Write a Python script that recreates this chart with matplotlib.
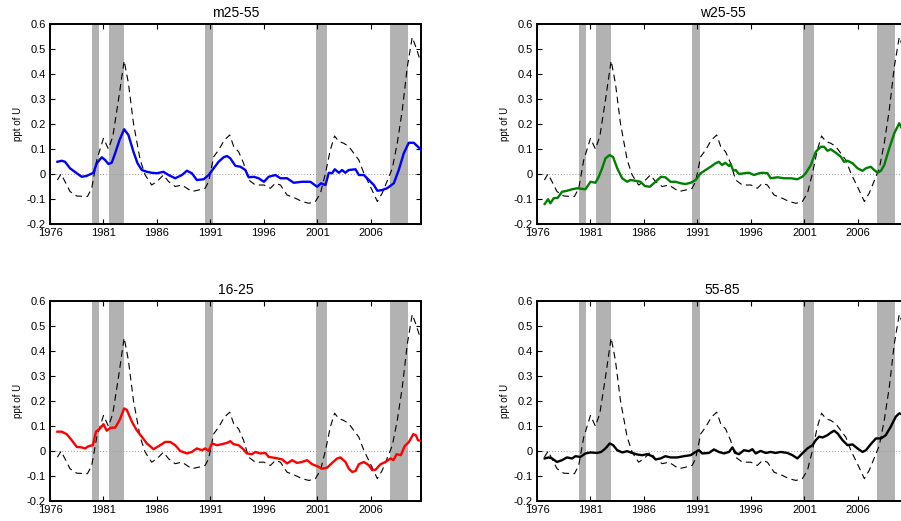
import numpy as np
import matplotlib
matplotlib.use("Agg")
import matplotlib.pyplot as plt

plt.rcParams['font.family'] = ['Liberation Sans', 'DejaVu Sans']

# aggregate series (dashed, same in every panel)
agg_t = [1976.69, 1977.03, 1977.4, 1977.87, 1978.5, 1979.5, 1979.9, 1980.37, 1981.0,
         1981.46, 1981.87, 1982.4, 1982.93, 1983.33, 1983.8, 1984.43, 1984.9, 1985.5,
         1986.0, 1986.6, 1987.08, 1987.7, 1988.33, 1988.8, 1989.26, 1989.9, 1990.5,
         1990.83, 1991.3, 1991.76, 1992.3, 1992.8, 1993.17, 1993.63, 1994.1, 1994.57,
         1995.2, 1996.0, 1996.6, 1997.07, 1997.54, 1998.16, 1998.94, 1999.56, 2000.2,
         2000.8, 2001.28, 2001.75, 2002.2, 2002.6, 2003.0, 2003.46, 2003.93, 2004.4,
         2004.87, 2005.34, 2005.65, 2006.1, 2006.6, 2007.05, 2007.5, 2008.0, 2008.46,
         2008.93, 2009.4, 2009.86, 2010.18, 2010.64]
agg_v = [-0.024, 0.0, -0.03, -0.07, -0.088, -0.09, -0.057, 0.056, 0.143,
         0.10, 0.15, 0.296, 0.453, 0.363, 0.203, 0.056, -0.004, -0.044,
         -0.03, -0.004, -0.03, -0.05, -0.044, -0.057, -0.07, -0.064, -0.057,
         -0.03, 0.069, 0.096, 0.136, 0.156, 0.11, 0.089, 0.043, -0.024,
         -0.044, -0.044, -0.057, -0.037, -0.044, -0.084, -0.097, -0.11, -0.117,
         -0.11, -0.077, 0.003, 0.096, 0.152, 0.13, 0.123, 0.11, 0.083,
         0.056, 0.003, -0.024, -0.064, -0.11, -0.077, -0.03, 0.023, 0.123,
         0.256, 0.429, 0.547, 0.51, 0.45]

m_t = [1976.69, 1977.1, 1977.4, 1977.87, 1978.5, 1978.96, 1979.4, 1980.06, 1980.37,
       1980.84, 1981.15, 1981.46, 1981.77, 1982.09, 1982.5, 1982.93, 1983.33, 1983.8,
       1984.18, 1984.58, 1985.05, 1985.5, 1986.0, 1986.6, 1987.08, 1987.7, 1988.33,
       1988.8, 1989.26, 1989.73, 1990.36, 1990.83, 1991.3, 1991.76, 1992.23, 1992.54,
       1992.85, 1993.32, 1993.8, 1994.26, 1994.57, 1995.04, 1995.5, 1996.0, 1996.44,
       1997.07, 1997.54, 1998.16, 1998.78, 1999.56, 2000.34, 2000.97, 2001.34, 2001.75,
       2002.06, 2002.37, 2002.62, 2003.0, 2003.3, 2003.6, 2003.93, 2004.56, 2004.87,
       2005.34, 2005.8, 2006.27, 2006.6, 2007.05, 2007.5, 2008.14, 2008.6, 2009.07,
       2009.54, 2010.0, 2010.4, 2010.7]
m_v = [0.049, 0.053, 0.049, 0.023, 0.003, -0.011, -0.008, 0.005, 0.043,
       0.067, 0.056, 0.04, 0.045, 0.083, 0.136, 0.179, 0.156, 0.089,
       0.043, 0.016, 0.009, 0.005, 0.003, 0.009, -0.004, -0.017, -0.004,
       0.013, 0.003, -0.024, -0.021, -0.004, 0.023, 0.049, 0.067, 0.072,
       0.063, 0.033, 0.029, 0.016, -0.013, -0.011, -0.017, -0.031, -0.011,
       -0.004, -0.017, -0.017, -0.035, -0.031, -0.031, -0.051, -0.037, -0.044,
       0.005, 0.003, 0.019, 0.005, 0.016, 0.005, 0.016, 0.019, -0.004,
       -0.004, -0.024, -0.044, -0.067, -0.064, -0.057, -0.037, 0.016, 0.083,
       0.125, 0.125, 0.109, 0.096]

w_t = [1976.72, 1977.03, 1977.25, 1977.56, 1977.94, 1978.34, 1978.8, 1979.28, 1979.75,
       1980.53, 1981.0, 1981.46, 1981.77, 1982.09, 1982.4, 1982.8, 1983.12, 1983.5,
       1983.96, 1984.43, 1984.74, 1985.2, 1985.68, 1986.08, 1986.55, 1987.08, 1987.6,
       1988.0, 1988.48, 1988.95, 1989.42, 1989.89, 1990.36, 1990.83, 1991.3, 1991.76,
       1992.23, 1992.7, 1993.0, 1993.3, 1993.6, 1993.95, 1994.1, 1994.35, 1994.57,
       1994.88, 1995.35, 1995.82, 1996.29, 1996.76, 1997.07, 1997.54, 1997.85, 1998.47,
       1999.1, 1999.72, 2000.34, 2000.8, 2001.12, 2001.6, 2002.06, 2002.53, 2002.84,
       2003.15, 2003.46, 2003.93, 2004.4, 2004.7, 2005.03, 2005.5, 2005.96, 2006.43,
       2006.75, 2007.2, 2007.52, 2007.84, 2008.15, 2008.46, 2008.93, 2009.4, 2009.86,
       2010.1, 2010.7]
w_v = [-0.12, -0.101, -0.117, -0.097, -0.095, -0.071, -0.067, -0.061, -0.057,
       -0.061, -0.031, -0.035, -0.011, 0.023, 0.063, 0.076, 0.067, 0.023,
       -0.017, -0.031, -0.024, -0.027, -0.031, -0.048, -0.051, -0.031, -0.011,
       -0.013, -0.031, -0.031, -0.037, -0.04, -0.035, -0.024, 0.003, 0.016,
       0.029, 0.043, 0.049, 0.036, 0.045, 0.032, 0.04, 0.013, 0.016,
       0.0, 0.003, 0.005, -0.004, 0.003, 0.005, 0.003, -0.017, -0.013,
       -0.017, -0.017, -0.021, -0.011, 0.003, 0.036, 0.089, 0.109, 0.109,
       0.093, 0.099, 0.085, 0.069, 0.049, 0.053, 0.043, 0.023, 0.013,
       0.023, 0.029, 0.016, 0.005, 0.013, 0.036, 0.103, 0.163, 0.203,
       0.183, 0.17]

y_t = [1976.69, 1977.1, 1977.56, 1978.03, 1978.5, 1978.96, 1979.28, 1979.6, 1980.0,
       1980.3, 1980.68, 1981.0, 1981.3, 1981.68, 1982.09, 1982.5, 1982.93, 1983.18,
       1983.65, 1984.1, 1984.58, 1985.05, 1985.68, 1986.3, 1986.77, 1987.24, 1987.7,
       1988.17, 1988.8, 1989.26, 1989.73, 1990.2, 1990.5, 1990.83, 1991.14, 1991.6,
       1992.07, 1992.54, 1992.85, 1993.17, 1993.63, 1994.1, 1994.4, 1994.88, 1995.2,
       1995.66, 1996.13, 1996.44, 1997.07, 1997.7, 1998.16, 1998.63, 1999.1, 1999.56,
       2000.03, 2000.5, 2000.97, 2001.44, 2001.9, 2002.37, 2002.84, 2003.15, 2003.62,
       2003.93, 2004.25, 2004.56, 2004.87, 2005.34, 2005.8, 2006.12, 2006.43, 2006.9,
       2007.37, 2007.84, 2008.1, 2008.4, 2008.8, 2009.15, 2009.55, 2009.96, 2010.2,
       2010.4, 2010.7]
y_v = [0.078, 0.078, 0.068, 0.044, 0.017, 0.015, 0.011, 0.02, 0.024,
       0.078, 0.091, 0.108, 0.082, 0.094, 0.094, 0.124, 0.171, 0.165,
       0.118, 0.084, 0.058, 0.031, 0.008, 0.024, 0.037, 0.037, 0.024,
       0.001, -0.009, -0.003, 0.011, 0.004, 0.011, 0.001, 0.031, 0.024,
       0.028, 0.033, 0.04, 0.028, 0.024, 0.007, -0.009, -0.012, -0.003,
       -0.009, -0.007, -0.023, -0.027, -0.033, -0.049, -0.036, -0.047, -0.043,
       -0.036, -0.052, -0.06, -0.07, -0.066, -0.047, -0.029, -0.025, -0.043,
       -0.07, -0.083, -0.079, -0.052, -0.043, -0.056, -0.076, -0.074, -0.052,
       -0.043, -0.029, -0.036, -0.012, -0.016, 0.02, 0.037, 0.068, 0.064,
       0.044, 0.041]

o_t = [1976.72, 1977.1, 1977.4, 1977.87, 1978.34, 1978.8, 1979.28, 1979.6, 1980.06,
       1980.53, 1981.0, 1981.62, 1982.0, 1982.4, 1982.8, 1983.12, 1983.5, 1983.96,
       1984.43, 1984.9, 1985.36, 1985.83, 1986.3, 1986.77, 1987.08, 1987.55, 1988.0,
       1988.48, 1989.1, 1989.73, 1990.36, 1990.83, 1991.14, 1991.45, 1992.07, 1992.54,
       1993.0, 1993.48, 1993.95, 1994.26, 1994.57, 1994.88, 1995.35, 1995.82, 1996.13,
       1996.44, 1996.9, 1997.38, 1997.85, 1998.3, 1998.78, 1999.4, 1999.88, 2000.34,
       2000.8, 2001.28, 2001.75, 2002.06, 2002.37, 2002.7, 2003.15, 2003.46, 2003.78,
       2004.1, 2004.56, 2005.03, 2005.5, 2005.96, 2006.43, 2006.75, 2007.2, 2007.68,
       2008.15, 2008.6, 2009.07, 2009.54, 2009.86, 2010.1, 2010.7]
o_v = [-0.029, -0.025, -0.029, -0.043, -0.036, -0.025, -0.029, -0.02, -0.023,
       -0.009, -0.005, -0.007, -0.003, 0.011, 0.031, 0.024, 0.004, -0.005,
       0.0, -0.007, -0.013, -0.016, -0.012, -0.02, -0.033, -0.029, -0.02,
       -0.025, -0.025, -0.02, -0.016, -0.003, 0.004, -0.009, -0.007, 0.007,
       -0.003, -0.009, -0.003, 0.015, -0.007, -0.012, 0.004, 0.0, 0.008,
       -0.009, 0.001, -0.007, -0.003, -0.007, -0.003, -0.007, -0.016, -0.029,
       -0.009, 0.011, 0.024, 0.044, 0.058, 0.055, 0.064, 0.074, 0.082,
       0.071, 0.044, 0.024, 0.027, 0.011, -0.003, 0.004, 0.028, 0.051,
       0.051, 0.064, 0.098, 0.138, 0.151, 0.148, 0.14]

recessions = [(1979.9, 1980.6), (1981.5, 1982.9), (1990.5, 1991.2),
              (2000.9, 2001.9), (2007.8, 2009.5)]

panels = [("m25-55", m_t, m_v, "#0000ff"),
          ("w25-55", w_t, w_v, "#008000"),
          ("16-25", y_t, y_v, "#ff0000"),
          ("55-85", o_t, o_v, "#000000")]

fig = plt.figure(figsize=(9.01, 5.21), dpi=100)
W, H = 0.412, 0.384
pos = [(0.0555, 0.570), (0.596, 0.570), (0.0555, 0.038), (0.596, 0.038)]

for (title, t, v, col), (x0, y0) in zip(panels, pos):
    ax = fig.add_axes([x0, y0, W, H])
    for a, b in recessions:
        ax.axvspan(a, b, color="#b2b2b2", lw=0, zorder=0)
    ax.axhline(0, color="#999999", lw=0.7, ls=(0, (1, 2)), zorder=1)
    ax.plot(agg_t, agg_v, color="k", lw=0.8, ls=(0, (6, 4)), zorder=2)
    ax.plot(t, v, color=col, lw=1.7, zorder=3)
    ax.set_xlim(1976, 2010.7)
    ax.set_ylim(-0.2, 0.6)
    ax.set_xticks(np.arange(1976, 2007, 5))
    ax.set_yticks(np.arange(-0.2, 0.61, 0.1))
    ax.set_yticklabels(["-0.2", "-0.1", "0", "0.1", "0.2", "0.3", "0.4", "0.5", "0.6"])
    ax.tick_params(direction="in", top=True, right=True, length=3.5, width=0.8,
                   labelsize=8, pad=3)
    for s in ax.spines.values():
        s.set_linewidth(1.4)
    ax.set_ylabel("ppt of U", fontsize=7, labelpad=3)
    ax.set_title(title, fontsize=10, pad=5)

fig.savefig("out.png", dpi=100)
